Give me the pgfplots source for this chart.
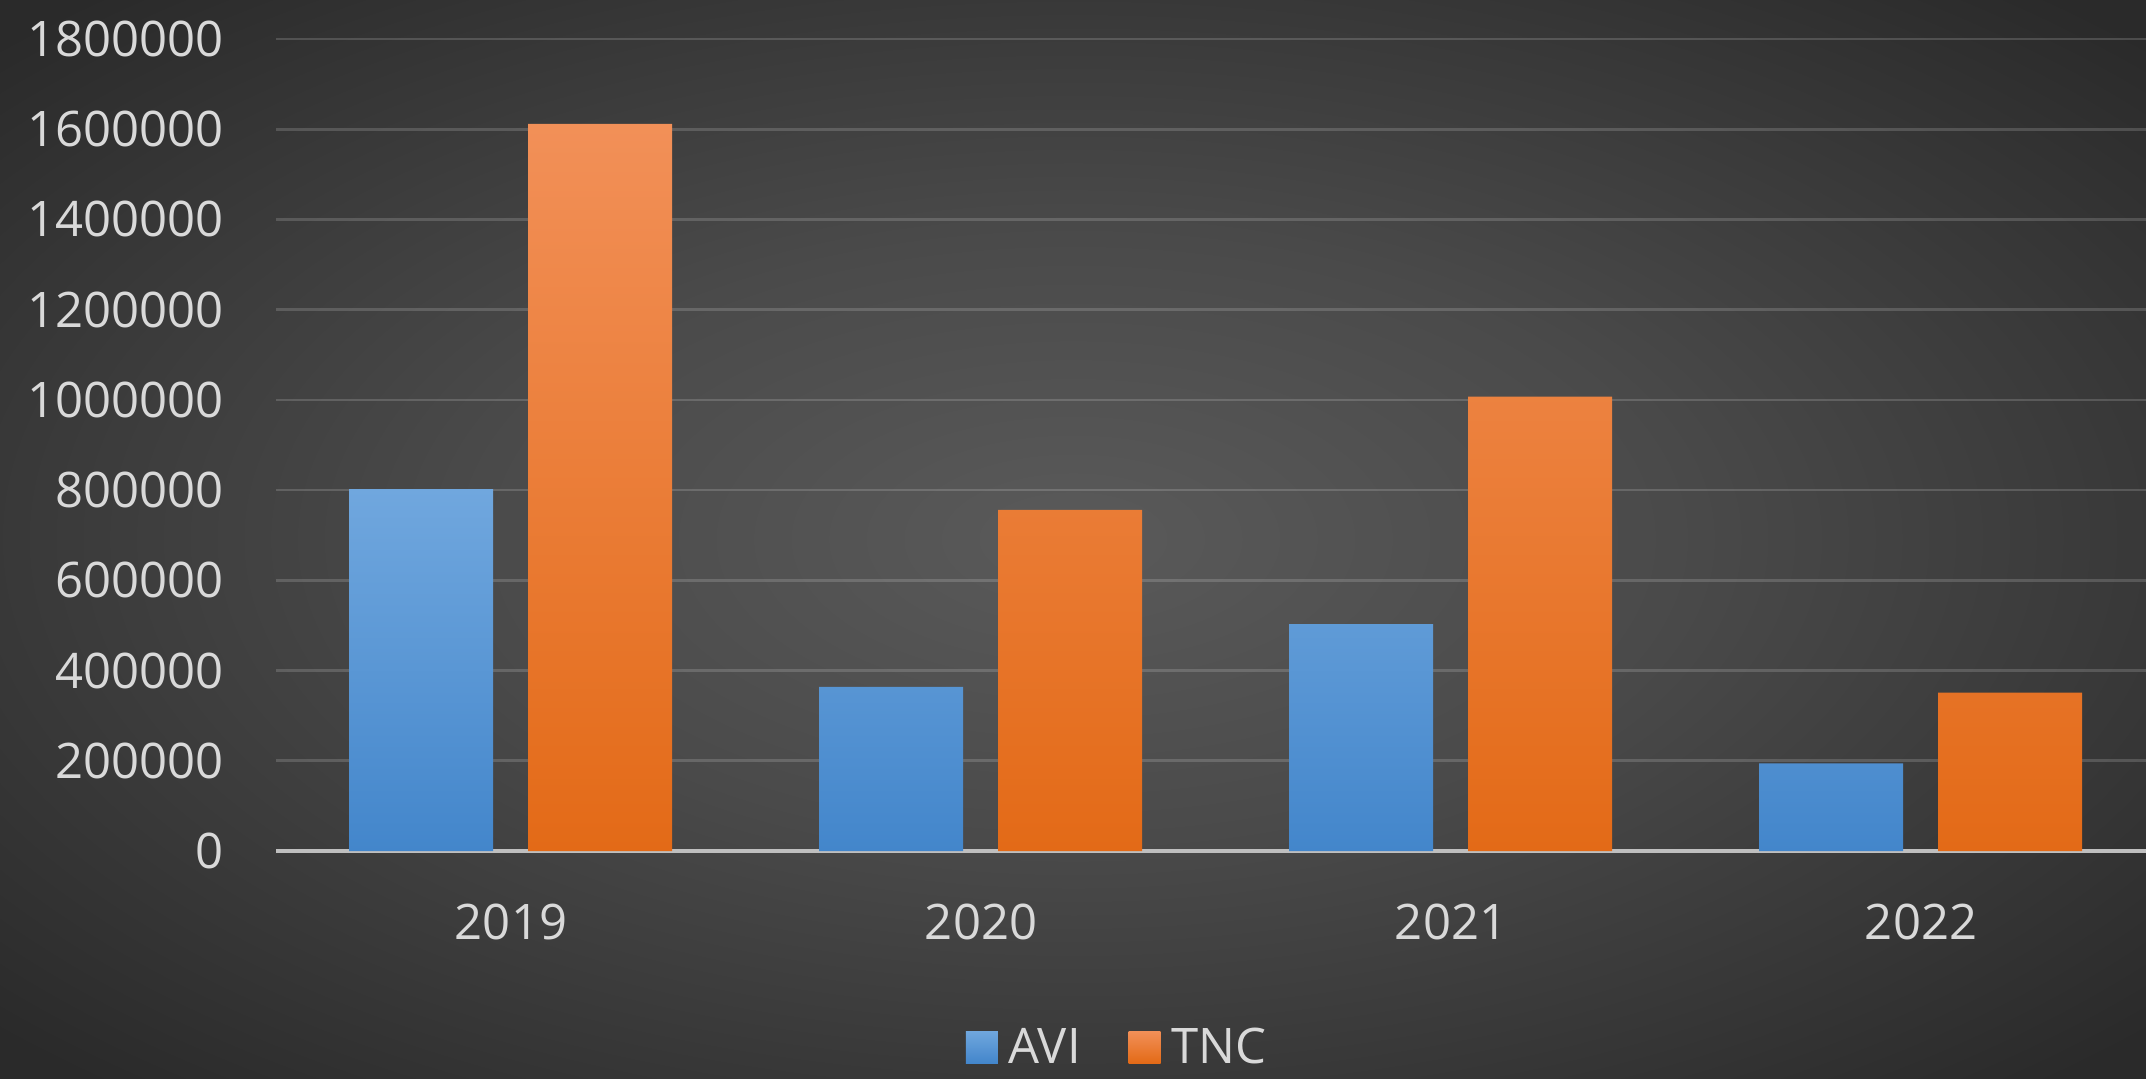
\documentclass[border=0pt]{standalone}
\usepackage{fontspec}
\setmainfont{Open Sans}
\usepackage{pgfplots}
\pgfplotsset{compat=1.18}
\definecolor{txt}{HTML}{D9D9D9}
\definecolor{axc}{HTML}{BFBFBF}
\definecolor{bluetop}{HTML}{70A7DE}
\definecolor{bluebot}{HTML}{4386CB}
\definecolor{oratop}{HTML}{F29058}
\definecolor{orabot}{HTML}{E36A17}
\definecolor{bgc}{HTML}{5A5A5A}
\definecolor{bgm}{HTML}{4A4A4A}
\definecolor{bge}{HTML}{2A2A2A}
\pgfdeclareradialshading{bgshade}{\pgfpoint{0bp}{0bp}}{color(0bp)=(bgc); color(14bp)=(bgm); color(34bp)=(bge); color(50bp)=(bge)}
\begin{document}
\begin{tikzpicture}
\useasboundingbox (0,0) rectangle (1073pt,539pt);
\shade[shading=bgshade] (0,0) rectangle (1073pt,539pt);
\begin{axis}[
  at={(138pt,113.5pt)}, anchor=south west,
  scale only axis, width=940pt, height=406pt,
  xmin=-0.5, xmax=3.5, ymin=0, ymax=1800000,
  axis x line*=bottom, axis y line*=left,
  x axis line style={draw=axc, line width=2pt, -},
  y axis line style={draw=none},
  ymajorgrids,
  grid style={draw=white, opacity=0.16, line width=1.3pt},
  major tick length=0pt,
  ytick={0,200000,400000,600000,800000,1000000,1200000,1400000,1600000,1800000},
  yticklabels={0,200000,400000,600000,800000,1000000,1200000,1400000,1600000,1800000},
  xtick={0,1,2,3},
  xticklabels={2019,2020,2021,2022},
  tick label style={font=\fontsize{24.5}{29}\selectfont, text=txt},
  yticklabel style={anchor=east, inner sep=0pt, xshift=-26pt},
  xticklabel style={anchor=center, inner sep=0pt, yshift=-35.5pt},
  scaled y ticks=false,
  legend style={at={(axis description cs:0.448,-0.2414)}, anchor=center,
    draw=none, fill=none, text=txt, font=\fontsize{24.5}{29}\selectfont,
    legend columns=2,
    /tikz/every even column/.append style={column sep=22pt}},
  legend image code/.code={\fill[#1] (0pt,-8pt) rectangle (16pt,8pt); \path (0pt,0pt) -- (19.5pt,0pt);},
]
\addplot[ybar, bar width=72pt, bar shift=-45pt, draw=none, top color=bluetop, bottom color=bluebot]
  coordinates {(0,802000) (1,364000) (2,503000) (3,194000)};
\addlegendentry{AVI}
\addplot[ybar, bar width=72pt, bar shift=44.5pt, draw=none, top color=oratop, bottom color=orabot]
  coordinates {(0,1612000) (1,756000) (2,1007000) (3,351000)};
\addlegendentry{TNC}
\end{axis}
\end{tikzpicture}
\end{document}
